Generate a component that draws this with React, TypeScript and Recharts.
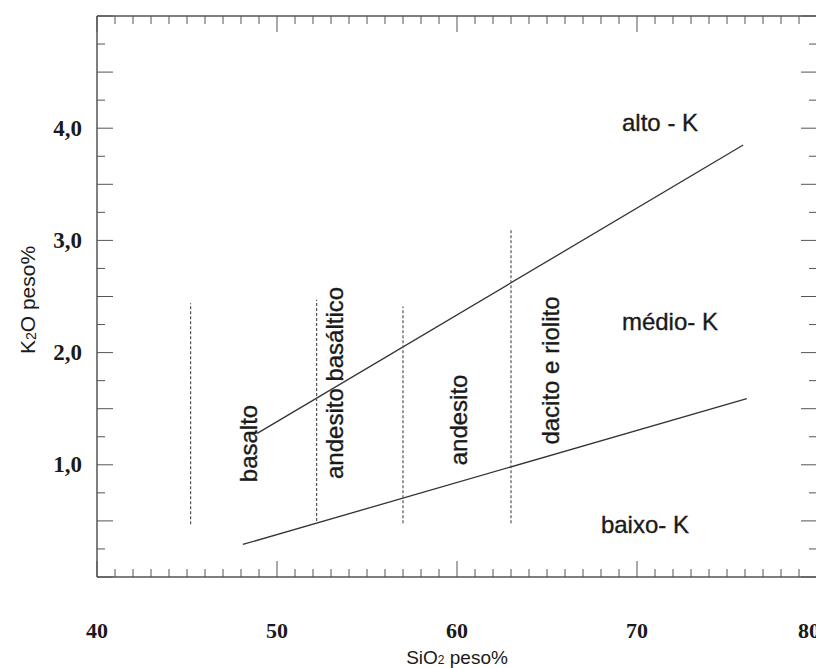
import React from "react";
import { ComposedChart, Line, Scatter, XAxis, YAxis } from "recharts";

// ---- data ----
const xTicks = [40, 41, 42, 43, 44, 45, 46, 47, 48, 49, 50, 51, 52, 53, 54, 55, 56, 57, 58, 59, 60, 61, 62, 63, 64, 65, 66, 67, 68, 69, 70, 71, 72, 73, 74, 75, 76, 77, 78, 79, 80];
const xLabelTicks = [40, 50, 60, 70, 80];
const yTicks = [0, 0.25, 0.5, 0.75, 1, 1.25, 1.5, 1.75, 2, 2.25, 2.5, 2.75, 3, 3.25, 3.5, 3.75, 4, 4.25, 4.5, 4.75, 5];
const yLabelTicks = [1, 2, 3, 4];

const highMediumBoundary = [
  { x: 48.9, y: 1.28 },
  { x: 75.9, y: 3.85 },
];
const mediumLowBoundary = [
  { x: 48.1, y: 0.29 },
  { x: 76.1, y: 1.59 },
];
const divider1 = [
  { x: 45.2, y: 0.47 },
  { x: 45.2, y: 2.44 },
];
const divider2 = [
  { x: 52.2, y: 0.5 },
  { x: 52.2, y: 2.47 },
];
const divider3 = [
  { x: 57.0, y: 0.48 },
  { x: 57.0, y: 2.41 },
];
const divider4 = [
  { x: 63.0, y: 0.48 },
  { x: 63.0, y: 3.1 },
];

const regionLabels = [
  { x: 48.39, y: 1.19, text: "basalto", rotate: true },
  { x: 53.22, y: 1.73, text: "andesito basáltico", rotate: true },
  { x: 60.06, y: 1.4, text: "andesito", rotate: true },
  { x: 65.17, y: 1.84, text: "dacito e riolito", rotate: true },
  { x: 71.28, y: 4.05, text: "alto - K", rotate: false },
  { x: 71.83, y: 2.28, text: "médio- K", rotate: false },
  { x: 70.44, y: 0.47, text: "baixo- K", rotate: false },
];

// ---- styles ----
const AXIS = "#555";
const LINE = "#333";
const TEXT = "#1a1a1a";
const SANS = "'Liberation Sans', Arial, sans-serif";
const SERIF = "'Liberation Serif', 'Times New Roman', serif";

const BottomTick = (props: any) => {
  const { x, y, payload } = props;
  const v = payload.value;
  const len = v % 10 === 0 ? 16 : 8;
  const isLast = v === 80;
  return (
    <g>
      <line x1={x} y1={y} x2={x} y2={y - len} stroke={AXIS} strokeWidth={1} />
      {xLabelTicks.includes(v) && (
        <text
          x={isLast ? x + 3 : x}
          y={y + 53}
          textAnchor={isLast ? "end" : "middle"}
          dominantBaseline="central"
          fontFamily={SERIF}
          fontWeight="bold"
          fontSize={22}
          fill={TEXT}
        >
          {v}
        </text>
      )}
    </g>
  );
};

const TopTick = (props: any) => {
  const { x, y, payload } = props;
  const v = payload.value;
  const len = v % 10 === 0 ? 16 : 8;
  return <line x1={x} y1={y} x2={x} y2={y + len} stroke={AXIS} strokeWidth={1} />;
};

const LeftTick = (props: any) => {
  const { x, y, payload } = props;
  const v = payload.value;
  const len = v % 0.5 === 0 ? 16 : 8;
  return (
    <g>
      <line x1={x} y1={y} x2={x + len} y2={y} stroke={AXIS} strokeWidth={1} />
      {yLabelTicks.includes(v) && (
        <text x={x - 15} y={y} textAnchor="end" dominantBaseline="central" fontFamily={SERIF} fontWeight="bold" fontSize={23} fill={TEXT}>
          {v.toFixed(1).replace(".", ",")}
        </text>
      )}
    </g>
  );
};

const RightTick = (props: any) => {
  const { x, y, payload } = props;
  const v = payload.value;
  const len = v % 0.5 === 0 ? 16 : 8;
  return <line x1={x} y1={y} x2={x - len} y2={y} stroke={AXIS} strokeWidth={1} />;
};

const XTitle = (props: any) => {
  const vb = props.viewBox || {};
  const cx = vb.x + vb.width / 2;
  return (
    <text x={cx} y={649} textAnchor="middle" dominantBaseline="central" fontFamily={SANS} fontSize={19} fill={TEXT}>
      SiO
      <tspan fontSize={12} dy={3}>2</tspan>
      <tspan dy={-3}> peso%</tspan>
    </text>
  );
};

const YTitle = () => {
  const cx = 19;
  const cy = 292;
  return (
    <text x={cx} y={cy} transform={`rotate(-90 ${cx} ${cy})`} textAnchor="middle" dominantBaseline="central" fontFamily={SANS} fontSize={21} fill={TEXT}>
      K
      <tspan fontSize={14} dy={4}>2</tspan>
      <tspan dy={-4}>O peso%</tspan>
    </text>
  );
};

const RegionLabel = (props: any) => {
  const { cx, cy, payload } = props;
  if (cx == null || cy == null || !payload) return null;
  return (
    <text
      x={cx}
      y={cy}
      transform={payload.rotate ? `rotate(-90 ${cx} ${cy})` : undefined}
      textAnchor="middle"
      dominantBaseline="central"
      fontFamily={SANS}
      fontSize={24}
      fill={TEXT}
      stroke={TEXT}
      strokeWidth={0.35}
    >
      {payload.text}
    </text>
  );
};

export default function App() {
  const dashed = { stroke: "#555", strokeWidth: 1.2, strokeDasharray: "3 2" };
  return (
    <ComposedChart width={816} height={660} margin={{ top: 7, right: 6, bottom: 31, left: 29 }} style={{ background: "#fff" }}>
      <XAxis
        xAxisId="b"
        type="number"
        dataKey="x"
        domain={[40, 80]}
        ticks={xTicks}
        interval={0}
        allowDataOverflow
        height={60}
        tickSize={0}
        tickMargin={0}
        tickLine={false}
        axisLine={{ stroke: AXIS, strokeWidth: 1.5 }}
        tick={<BottomTick />}
        label={<XTitle />}
      />
      <XAxis
        xAxisId="t"
        orientation="top"
        type="number"
        dataKey="x"
        domain={[40, 80]}
        ticks={xTicks}
        interval={0}
        allowDataOverflow
        height={1}
        tickSize={0}
        tickMargin={0}
        tickLine={false}
        axisLine={{ stroke: AXIS, strokeWidth: 1.5 }}
        tick={<TopTick />}
      />
      <YAxis
        yAxisId="l"
        type="number"
        domain={[0, 5]}
        ticks={yTicks}
        interval={0}
        allowDataOverflow
        width={60}
        tickSize={0}
        tickMargin={0}
        tickLine={false}
        axisLine={{ stroke: AXIS, strokeWidth: 1.5 }}
        tick={<LeftTick />}
        label={<YTitle />}
      />
      <YAxis
        yAxisId="r"
        orientation="right"
        type="number"
        domain={[0, 5]}
        ticks={yTicks}
        interval={0}
        allowDataOverflow
        width={1}
        tickSize={0}
        tickMargin={0}
        tickLine={false}
        axisLine={{ stroke: AXIS, strokeWidth: 1.5 }}
        tick={<RightTick />}
      />
      <Line xAxisId="b" yAxisId="l" data={highMediumBoundary} dataKey="y" stroke={LINE} strokeWidth={1.3} dot={false} isAnimationActive={false} />
      <Line xAxisId="b" yAxisId="l" data={mediumLowBoundary} dataKey="y" stroke={LINE} strokeWidth={1.3} dot={false} isAnimationActive={false} />
      <Line xAxisId="b" yAxisId="l" data={divider1} dataKey="y" {...dashed} dot={false} isAnimationActive={false} />
      <Line xAxisId="b" yAxisId="l" data={divider2} dataKey="y" {...dashed} dot={false} isAnimationActive={false} />
      <Line xAxisId="b" yAxisId="l" data={divider3} dataKey="y" {...dashed} dot={false} isAnimationActive={false} />
      <Line xAxisId="b" yAxisId="l" data={divider4} dataKey="y" {...dashed} dot={false} isAnimationActive={false} />
      <Scatter xAxisId="b" yAxisId="l" data={regionLabels} dataKey="y" shape={<RegionLabel />} isAnimationActive={false} />
    </ComposedChart>
  );
}
